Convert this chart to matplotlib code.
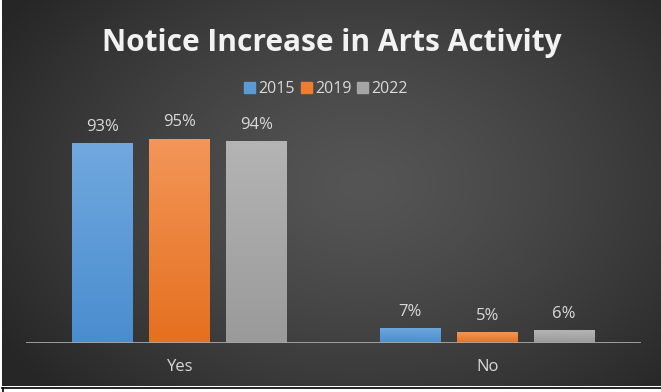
import numpy as np
import matplotlib
matplotlib.use("Agg")
import matplotlib.pyplot as plt
from matplotlib.colors import LinearSegmentedColormap, to_rgb
from matplotlib.patches import Rectangle

# Survey data
categories = ["Yes", "No"]
years = ["2015", "2019", "2022"]
values_2015 = [93, 7]
values_2019 = [95, 5]
values_2022 = [94, 6]
series = [values_2015, values_2019, values_2022]

title = "Notice Increase in Arts Activity"

# Light (top) and dark (bottom) shades of each series' gradient fill
top_colors = ["#70a8de", "#f39658", "#b4b4b4"]
bottom_colors = ["#4a8dcf", "#e5701f", "#9a9a9a"]
legend_colors = ["#5b9bd5", "#ed7d31", "#a5a5a5"]
text_color = "#d9d9d9"

W, H = 661, 392
fig = plt.figure(figsize=(W / 100, H / 100), dpi=100)
fig.patch.set_facecolor("white")

# Dark chart area with a soft radial glow
bg = fig.add_axes([2 / W, 6 / H, 1 - 2 / W, 386 / H])
bg.set_axis_off()
nx, ny = 330, 200
xx, yy = np.meshgrid(np.linspace(0, 659, nx), np.linspace(0, 386, ny))
r = np.sqrt(((xx - 360) / 420) ** 2 + ((yy - 185) / 300) ** 2)
r = np.clip(r, 0, 1)
lum = 0x55 / 255 - (0x55 - 0x27) / 255 * r ** 1.3
img = np.dstack([lum, lum, lum])
bg.imshow(img, extent=[0, 1, 0, 1], aspect="auto", origin="upper",
          interpolation="bilinear")
bg.set_xlim(0, 1)
bg.set_ylim(0, 1)

# Black frame line under the chart area
fig.add_artist(plt.Line2D([2 / W, 1], [4 / H, 4 / H], color="black", lw=1.2,
                          transform=fig.transFigure))
fig.add_artist(plt.Line2D([2.5 / W, 2.5 / W], [0, 4 / H], color="black", lw=1.2,
                          transform=fig.transFigure))

# Plot area
ax = fig.add_axes([26 / W, 49 / H, 615 / W, 215 / H])
ax.patch.set_alpha(0)
for s in ax.spines.values():
    s.set_visible(False)
ax.set_yticks([])
ax.set_xticks([])
ax.axhline(0, color="#a6a6a6", lw=1.3, zorder=3)

x = np.arange(len(categories))
offset = 0.25
width = 0.198
for j, vals in enumerate(series):
    pos = x + (j - 1) * offset
    bars = ax.bar(pos, vals, width=width, color=legend_colors[j], zorder=2,
                  linewidth=0)
    cmap = LinearSegmentedColormap.from_list(
        f"grad{j}", [to_rgb(bottom_colors[j]), to_rgb(top_colors[j])])
    for b, v in zip(bars, vals):
        grad = np.linspace(0, 1, 64).reshape(-1, 1)
        im = ax.imshow(grad, cmap=cmap, origin="lower", aspect="auto",
                       extent=[b.get_x(), b.get_x() + b.get_width(), 0, v],
                       zorder=2.5, interpolation="bilinear")
        im.set_clip_path(b)
        ax.annotate(f"{v}%", (b.get_x() + b.get_width() / 2, v),
                    xytext=(0, 6), textcoords="offset points",
                    ha="center", va="bottom", color=text_color,
                    fontsize=12, family="Open Sans")
ax.set_xlim(-0.5, 1.5)
ax.set_ylim(0, 100)

for xi, c in zip(x, categories):
    ax.text(xi, -11, c, ha="center", va="center", color=text_color,
            fontsize=12, family="Open Sans", clip_on=False)

# Title
fig.text(332 / W, 1 - 43 / H, title, ha="center", va="center",
         color="#f2f2f2", fontsize=21.5, fontweight="bold", family="Open Sans")

# Legend
handles = [Rectangle((0, 0), 1, 1, color=c) for c in legend_colors]
leg = fig.legend(handles, years, loc="center", bbox_to_anchor=(326 / W, 1 - 89 / H),
                 ncol=3, frameon=False, handlelength=0.7, handleheight=0.7,
                 handletextpad=0.2, columnspacing=0.35,
                 prop={"family": "Open Sans", "size": 11.5})
for t in leg.get_texts():
    t.set_color(text_color)

fig.savefig("out.png", dpi=100, facecolor=fig.get_facecolor())
